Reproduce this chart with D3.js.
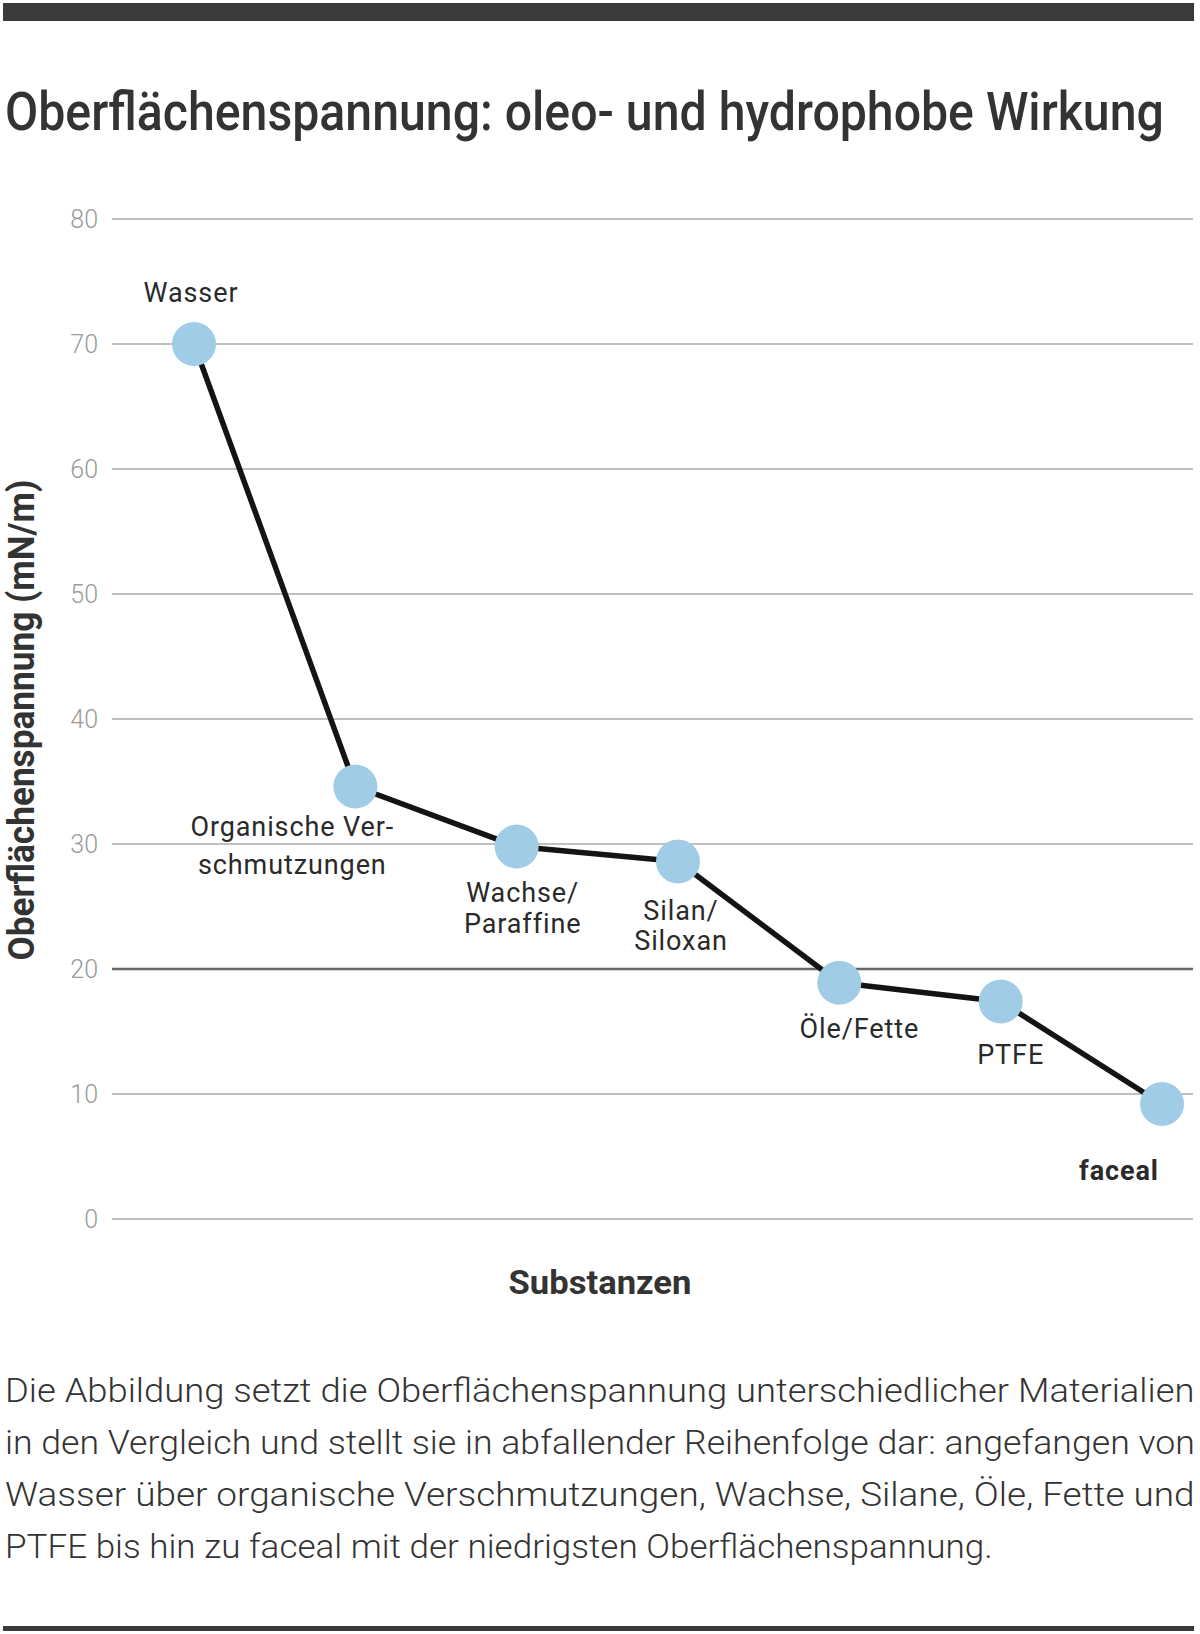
<!DOCTYPE html>
<html lang="de">
<head>
<meta charset="utf-8">
<script src="https://cdn.jsdelivr.net/npm/d3@7"></script>
<style>
  html, body { margin: 0; padding: 0; background: #fff; }
  svg { display: block; }
</style>
</head>
<body>
<svg id="chart" width="1200" height="1634"></svg>
<script>
// ---------- DATA ----------
const substances = ["Wasser", "Organische Verschmutzungen", "Wachse/Paraffine", "Silan/Siloxan", "Öle/Fette", "PTFE", "faceal"];
const tension = [70, 34.6, 29.8, 28.6, 18.9, 17.4, 9.2];
const labelLines = [["Wasser"], ["Organische Ver-", "schmutzungen"], ["Wachse/", "Paraffine"], ["Silan/", "Siloxan"], ["Öle/Fette"], ["PTFE"], ["faceal"]];
const yTicks = [0, 10, 20, 30, 40, 50, 60, 70, 80];
const titleText = "Oberflächenspannung: oleo- und hydrophobe Wirkung";
const yTitle = "Oberflächenspannung (mN/m)";
const xTitle = "Substanzen";
const captionLines = [
  "Die Abbildung setzt die Oberflächenspannung unterschiedlicher Materialien",
  "in den Vergleich und stellt sie in abfallender Reihenfolge dar: angefangen von",
  "Wasser über organische Verschmutzungen, Wachse, Silane, Öle, Fette und",
  "PTFE bis hin zu faceal mit der niedrigsten Oberflächenspannung."
];

// ---------- LAYOUT (label placement relative to points) ----------
const labelLayout = [
  { dx: -3,  dy: [-42] },
  { dx: -63, dy: [49, 87] },
  { dx: 6,   dy: [55, 86] },
  { dx: 3,   dy: [58, 88] },
  { dx: 20,  dy: [55] },
  { dx: 10,  dy: [62] },
  { dx: -43, dy: [76], bold: true }
];

const FONT = "Roboto, 'Noto Sans', 'DejaVu Sans', sans-serif";
const svg = d3.select("#chart");

// Fit a text horizontally to a target width by scaling around its anchor
function fit(sel, ax, ay, width, rotate) {
  sel.attr("x", 0).attr("y", 0);
  const w = sel.node().getComputedTextLength();
  const s = width / w;
  sel.attr("transform", `translate(${ax},${ay})${rotate ? ` rotate(${rotate})` : ""} scale(${s},1)`);
  return sel;
}

// Top & bottom rules
svg.append("rect").attr("x", 3).attr("y", 3).attr("width", 1191).attr("height", 18).attr("fill", "#3a3a3a");
svg.append("rect").attr("x", 3).attr("y", 1626).attr("width", 1191).attr("height", 5).attr("fill", "#3a3a3a");

// Title
fit(svg.append("text")
  .attr("font-family", FONT).attr("font-weight", 500).attr("font-size", 54)
  .attr("fill", "#333")
  .text(titleText), 5, 130, 1159);

// Scales
const x = d3.scalePoint().domain(substances).range([194, 1162]);
const y = d3.scaleLinear().domain([0, 80]).range([1219, 219]);

// Gridlines
svg.append("g").selectAll("line").data(yTicks).join("line")
  .attr("x1", 112).attr("x2", 1193)
  .attr("y1", d => y(d)).attr("y2", d => y(d))
  .attr("stroke", d => d === 20 ? "#666" : "#aaa")
  .attr("stroke-width", d => d === 20 ? 2.5 : 1.6);

// Y axis tick labels (through d3 axis)
const yAxis = svg.append("g")
  .attr("transform", "translate(98,0)")
  .call(d3.axisLeft(y).tickValues(yTicks).tickSize(0).tickPadding(0).tickFormat(d3.format("d")));
yAxis.select(".domain").remove();
yAxis.selectAll("text")
  .attr("font-family", FONT).attr("font-weight", 300).attr("font-size", 25)
  .attr("fill", "#9a9a9a");

// Y axis title
fit(svg.append("text")
  .attr("text-anchor", "middle")
  .attr("font-family", FONT).attr("font-weight", 700).attr("font-size", 37)
  .attr("fill", "#333")
  .text(yTitle), 34, 720, 481, -90);

// X axis title
fit(svg.append("text")
  .attr("text-anchor", "middle")
  .attr("font-family", FONT).attr("font-weight", 700).attr("font-size", 33)
  .attr("fill", "#333")
  .text(xTitle), 600, 1294, 183);

// Line
const pts = substances.map((s, i) => ({ s, v: tension[i], i }));
svg.append("path")
  .datum(pts)
  .attr("fill", "none")
  .attr("stroke", "#141414")
  .attr("stroke-width", 5.5)
  .attr("stroke-linejoin", "round")
  .attr("d", d3.line().x(d => x(d.s)).y(d => y(d.v)));

// Points
svg.append("g").selectAll("circle").data(pts).join("circle")
  .attr("cx", d => x(d.s)).attr("cy", d => y(d.v)).attr("r", 22)
  .attr("fill", "#a0cce6");

// Point labels
const lbl = svg.append("g");
pts.forEach(d => {
  const L = labelLayout[d.i];
  labelLines[d.i].forEach((line, k) => {
    lbl.append("text")
      .attr("x", x(d.s) + L.dx)
      .attr("y", y(d.v) + L.dy[k])
      .attr("text-anchor", "middle")
      .attr("font-family", FONT)
      .attr("font-weight", L.bold ? 700 : 400)
      .attr("font-size", 27)
      .attr("letter-spacing", 0.9)
      .attr("fill", "#2a2a2a")
      .text(line);
  });
});

// Caption
const cap = svg.append("g");
const capWidths = [1190, 1190, 1190, 988];
captionLines.forEach((line, k) => {
  fit(cap.append("text")
    .attr("font-family", FONT).attr("font-weight", 300).attr("font-size", 34)
    .attr("fill", "#333")
    .text(line), 5, 1402 + k * 52, capWidths[k]);
});
</script>
</body>
</html>
